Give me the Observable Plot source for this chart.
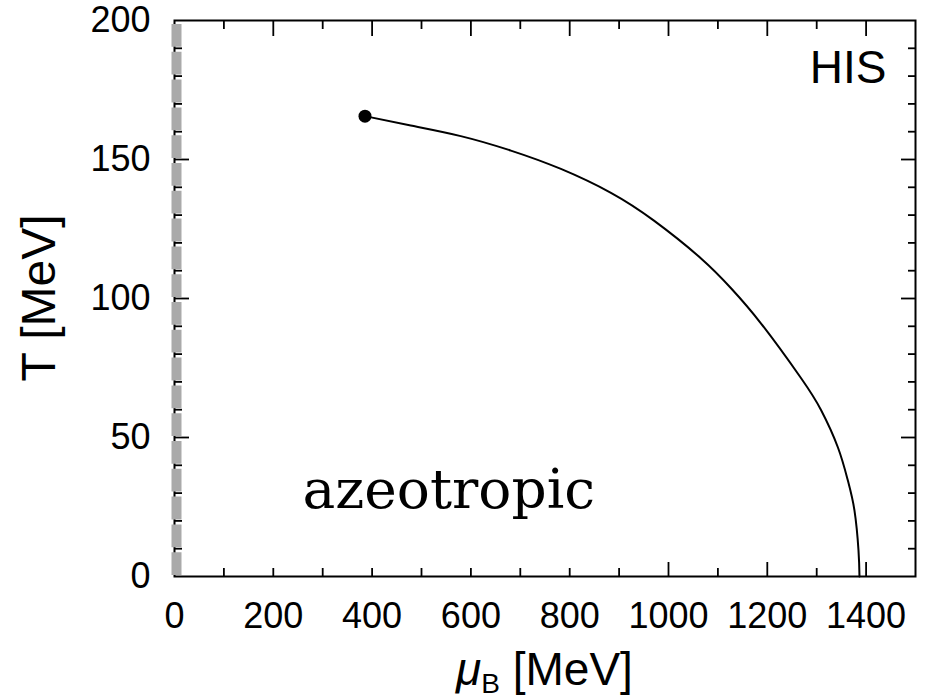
<!DOCTYPE html>
<html><head><meta charset="utf-8">
<script src="https://cdn.jsdelivr.net/npm/d3@7"></script>
<script src="https://cdn.jsdelivr.net/npm/@observablehq/plot@0.6"></script>
<style>body{margin:0;background:#fff} #chart svg{display:block}</style>
</head><body><div id="chart"></div>
<script>
// Phase boundary (muB in MeV, T in MeV)
const muB = [385.6, 478.2, 579.5, 680.9, 782.2, 883.5, 970.6, 1065.9, 1126.6, 1187.4, 1268.5, 1309.0, 1342.8, 1363.1, 1376.5, 1384.6, 1386.6];
const T   = [165.6, 162.2, 158.4, 153.2, 146.6, 138.0, 128.0, 114.4, 103.7, 91.0, 71.3, 59.8, 46.5, 34.5, 23.7, 9.4, 0];
// Critical end point
const cepMu = [385.6];
const cepT = [165.6];
// Tick labels and tick marks
const xTickLabels = [0, 200, 400, 600, 800, 1000, 1200, 1400];
const yTickLabels = [0, 50, 100, 150, 200];
const xBottomShort = [100, 200, 300, 400, 500, 600, 700, 800, 900, 1100, 1300];
const xBottomLong = [1000, 1200, 1400];
const xTopShort = [100, 300, 500, 700, 900, 1100, 1300];
const xTopLong = [200, 400, 600, 800, 1000, 1200, 1400];
const yShort = [10, 20, 30, 40, 60, 70, 80, 90, 110, 120, 130, 140, 160, 170, 180, 190];
const yLong = [50, 100, 150];
const panelLabel = ["HIS"];
const regionLabel = ["azeotropic"];
const xLabelParts = ["μ", "B", " [MeV]"];
const yLabelText = "T [MeV]";

const curve = muB.map((m, i) => ({mu: m, T: T[i]}));
const cep = cepMu.map((m, i) => ({mu: m, T: cepT[i]}));

const sans = "Liberation Sans, Arial, Helvetica, sans-serif";
const tickW = 1.8;
const fmt = d3.format("d");

const chart = Plot.plot({
  width: 928,
  height: 700,
  marginLeft: 174,
  marginRight: 13,
  marginTop: 20,
  marginBottom: 124,
  style: {fontFamily: sans, fontSize: "36px", color: "#000", background: "#fff"},
  x: {domain: [0, 1500]},
  y: {domain: [0, 200]},
  marks: [
    Plot.axisX(xTickLabels, {anchor: "bottom", tickSize: 0, tickPadding: 26, fontSize: 36, tickFormat: fmt, label: null}),
    Plot.axisX(xBottomShort, {anchor: "bottom", tickSize: -8, fill: "none", strokeWidth: tickW, label: null}),
    Plot.axisX(xBottomLong, {anchor: "bottom", tickSize: -14, fill: "none", strokeWidth: tickW, label: null}),
    Plot.axisX(xTopShort, {anchor: "top", tickSize: -8, fill: "none", strokeWidth: tickW, label: null}),
    Plot.axisX(xTopLong, {anchor: "top", tickSize: -15, fill: "none", strokeWidth: tickW, label: null}),
    Plot.axisY(yTickLabels, {anchor: "left", tickSize: 0, tickPadding: 24, fontSize: 36, tickFormat: fmt, label: null}),
    Plot.axisY(yShort, {anchor: "left", tickSize: -8, fill: "none", strokeWidth: tickW, label: null}),
    Plot.axisY(yLong, {anchor: "left", tickSize: -15, fill: "none", strokeWidth: tickW, label: null}),
    Plot.axisY(yShort, {anchor: "right", tickSize: -8, fill: "none", strokeWidth: tickW, label: null}),
    Plot.axisY(yLong, {anchor: "right", tickSize: -15, fill: "none", strokeWidth: tickW, label: null}),
    Plot.frame({stroke: "#000", strokeWidth: 2}),
    Plot.line(curve, {x: "mu", y: "T", stroke: "#000", strokeWidth: 2, curve: "natural"}),
    Plot.dot(cep, {x: "mu", y: "T", r: 6.5, fill: "#000", stroke: "none"}),
    Plot.ruleX([0], {y1: 200, y2: 0, stroke: "#aaaaaa", strokeWidth: 10, strokeDasharray: "22.8,5", strokeDashoffset: -4, dx: 2}),
    Plot.text(panelLabel, {frameAnchor: "top-right", text: d => d, dx: -29, dy: 62, lineAnchor: "bottom", textAnchor: "end", fontSize: 46, fontFamily: sans, fill: "#000"}),
    Plot.text(regionLabel, {frameAnchor: "bottom-left", text: d => d, dx: 128, dy: -69, lineAnchor: "bottom", textAnchor: "start", fontSize: 55, fontFamily: "DejaVu Serif, serif", fill: "#000"})
  ]
});
document.getElementById("chart").appendChild(chart);

// Axis titles
const svg = d3.select(chart);
const xs = chart.scale("x").range;
const ys = chart.scale("y").range;
const xl = svg.append("text")
  .attr("x", (xs[0] + xs[1]) / 2)
  .attr("y", 685)
  .attr("text-anchor", "middle")
  .style("font-family", sans)
  .style("font-size", "46px")
  .attr("fill", "#000");
xl.append("tspan").style("font-style", "italic").text(xLabelParts[0]);
xl.append("tspan").attr("dy", 8).style("font-size", "28px").text(xLabelParts[1]);
xl.append("tspan").attr("dy", -8).text(xLabelParts[2]);

svg.append("text")
  .attr("transform", `translate(55,${(ys[0] + ys[1]) / 2}) rotate(-90)`)
  .attr("text-anchor", "middle")
  .style("font-family", sans)
  .style("font-size", "48px")
  .attr("fill", "#000")
  .text(yLabelText);
</script>
</body></html>
